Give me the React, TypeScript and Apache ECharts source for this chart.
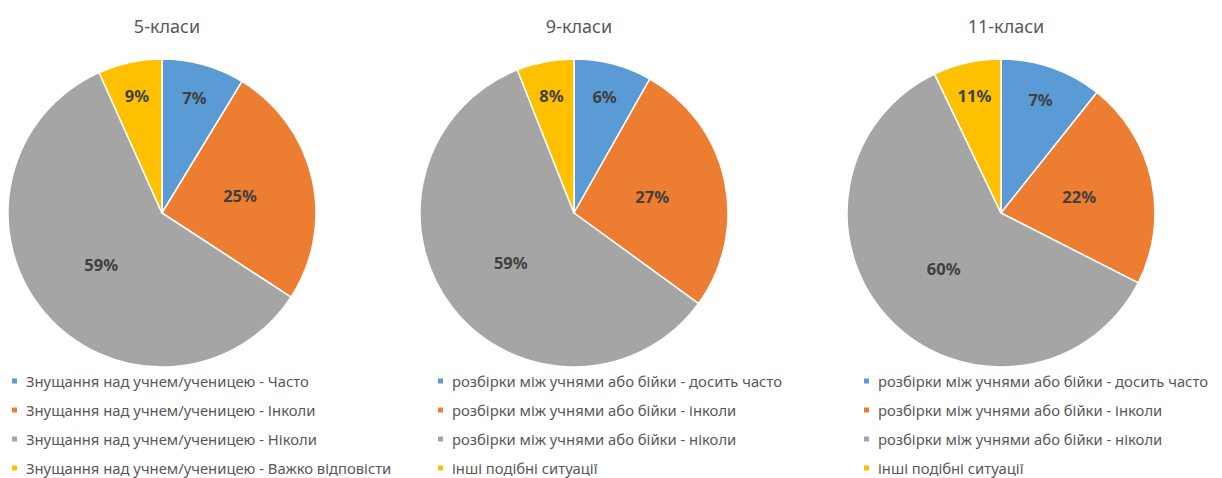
import React, { useEffect, useRef } from "react";
import * as echarts from "echarts";

const titles = ["5-класи", "9-класи", "11-класи"];

const categories5 = [
  "Знущання над учнем/ученицею - Часто",
  "Знущання над учнем/ученицею - Інколи",
  "Знущання над учнем/ученицею - Ніколи",
  "Знущання над учнем/ученицею - Важко відповісти",
];
const categories9_11 = [
  "розбірки між учнями або бійки - досить часто",
  "розбірки між учнями або бійки - інколи",
  "розбірки між учнями або бійки - ніколи",
  "інші подібні ситуації",
];

// slice sizes as drawn (share of the circle, %)
const values5 = [8.7, 25.5, 59.1, 6.7];
const values9 = [8.2, 26.8, 59.0, 6.0];
const values11 = [10.7, 21.8, 60.4, 7.1];

// data labels as printed on the chart
const labels5 = ["7%", "25%", "59%", "9%"];
const labels9 = ["6%", "27%", "59%", "8%"];
const labels11 = ["7%", "22%", "60%", "11%"];

const colors = ["#5B9BD5", "#ED7D31", "#A5A5A5", "#FFC000"];

const FONT = "'Noto Sans', 'DejaVu Sans', sans-serif";

export default function App() {
  const ref = useRef<HTMLDivElement>(null);
  useEffect(() => {
    if (!ref.current) return;
    const chart = echarts.init(ref.current, undefined, { renderer: "svg" });

    const pies = [
      { cats: categories5, vals: values5, labs: labels5, cx: 162, legendLeft: 10 },
      { cats: categories9_11, vals: values9, labs: labels9, cx: 574, legendLeft: 436 },
      { cats: categories9_11, vals: values11, labs: labels11, cx: 1001, legendLeft: 862 },
    ];
    const R = 154;
    const cy = 213;
    const labelStyle = {
      color: "#404040",
      fontSize: 16.5,
      fontWeight: "bold" as const,
      fontFamily: FONT,
    };
    const series: any[] = [];
    pies.forEach((p, pi) => {
      series.push({
        type: "pie",
        id: "main" + pi,
        center: [p.cx, cy],
        radius: R,
        startAngle: 90,
        clockwise: true,
        avoidLabelOverlap: false,
        itemStyle: { borderColor: "#fff", borderWidth: 1.5 },
        labelLine: { show: false },
        data: p.cats.map((c, i) => ({
          name: c,
          value: p.vals[i],
          itemStyle: { color: colors[i] },
          label: {
            show: i === 1 || i === 2,
            position: "inside",
            formatter: p.labs[i],
            ...labelStyle,
          },
        })),
      });
      series.push({
        type: "pie",
        id: "ring" + pi,
        center: [p.cx, cy],
        radius: [80, R],
        startAngle: 90,
        clockwise: true,
        silent: true,
        avoidLabelOverlap: false,
        itemStyle: { color: "rgba(0,0,0,0)" },
        labelLine: { show: false },
        emphasis: { disabled: true },
        data: p.cats.map((c, i) => ({
          name: c,
          value: p.vals[i],
          itemStyle: { color: "rgba(0,0,0,0)" },
          label: {
            show: i === 0 || i === 3,
            position: "inside",
            formatter: p.labs[i],
            ...labelStyle,
          },
        })),
      });
    });

    const option: any = {
      animation: false,
      backgroundColor: "#ffffff",
      title: pies.map((p, i) => ({
        text: titles[i],
        left: p.cx,
        top: 12,
        textAlign: "center",
        textStyle: {
          color: "#595959",
          fontSize: 18,
          fontWeight: "normal",
          fontFamily: FONT,
        },
      })),
      legend: pies.map((p) => ({
        orient: "vertical",
        left: p.legendLeft,
        top: 373,
        padding: 0,
        icon: "rect",
        itemWidth: 7,
        itemHeight: 7,
        itemGap: 13,
        selectedMode: false,
        data: p.cats,
        textStyle: {
          color: "#595959",
          fontSize: 14.8,
          fontFamily: FONT,
          lineHeight: 16,
          padding: [0, 0, 0, 3],
        },
      })),
      series,
    };
    chart.setOption(option);
    return () => chart.dispose();
  }, []);
  return (
    <div
      ref={ref}
      style={{ position: "absolute", left: 0, top: 0, width: 1222, height: 478 }}
    />
  );
}
